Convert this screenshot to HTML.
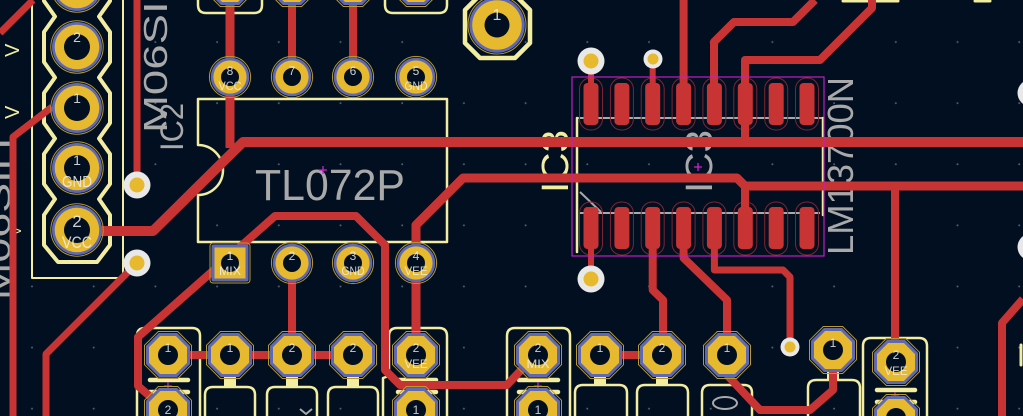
<!DOCTYPE html>
<html><head><meta charset="utf-8"><style>
html,body{margin:0;padding:0;background:#010f20;width:1023px;height:416px;overflow:hidden;}
svg{display:block;position:absolute;left:0;top:0;}
</style></head><body>
<svg width="1023" height="416" viewBox="0 0 1023 416" xmlns="http://www.w3.org/2000/svg">
<defs>
<pattern id="dots" x="2" y="12" width="61.7" height="61.1" patternUnits="userSpaceOnUse"><circle cx="30" cy="30" r="1" fill="#4f5e75"/></pattern>
<g id="hp"><circle r="26.2" fill="none" stroke="#b8992a" stroke-width="1"/><circle r="25" fill="#5e68b3"/><circle r="22.3" fill="#e6b92e"/><circle r="13" fill="#010f20"/></g>
<g id="bp"><circle r="29" fill="none" stroke="#b8992a" stroke-width="1"/><circle r="27.8" fill="#5e68b3"/><circle r="24.8" fill="#e6b92e"/><circle r="12.5" fill="#010f20"/></g>
<g id="sp"><circle r="20.6" fill="none" stroke="#b8992a" stroke-width="1"/><circle r="19.3" fill="#5e68b3"/><circle r="16.6" fill="#e6b92e"/><circle r="9" fill="#010f20"/></g>
<g id="op"><polygon points="-9.7,-23.5 9.7,-23.5 23.5,-9.7 23.5,9.7 9.7,23.5 -9.7,23.5 -23.5,9.7 -23.5,-9.7" fill="none" stroke="#b8992a" stroke-width="1"/><polygon points="-9.1,-22 9.1,-22 22,-9.1 22,9.1 9.1,22 -9.1,22 -22,9.1 -22,-9.1" fill="#5e68b3"/><polygon points="-7.9,-19 7.9,-19 19,-7.9 19,7.9 7.9,19 -7.9,19 -19,7.9 -19,-7.9" fill="#e6b92e"/><circle r="10" fill="#010f20"/></g>
<g id="opb"><polyline points="-23.5,6 -23.5,-9.7 -9.7,-23.5 9.7,-23.5 23.5,-9.7 23.5,6" fill="none" stroke="#b8992a" stroke-width="1"/><polygon points="-9.1,-22 9.1,-22 22,-9.1 22,6 -22,6 -22,-9.1" fill="#5e68b3"/><polygon points="-7.9,-19 7.9,-19 19,-7.9 19,6 -19,6 -19,-7.9" fill="#e6b92e"/><path d="M-8,6 A10,10 0 1 1 8,6 Z" fill="#010f20"/></g>
<g id="opc"><polyline points="-23.5,-2 -23.5,-9.7 -9.7,-23.5 9.7,-23.5 23.5,-9.7 23.5,-2" fill="none" stroke="#b8992a" stroke-width="1"/><polygon points="-9.1,-22 9.1,-22 22,-9.1 22,-2 -22,-2 -22,-9.1" fill="#5e68b3"/><polygon points="-7.9,-19 7.9,-19 19,-7.9 19,-2 -19,-2 -19,-7.9" fill="#e6b92e"/><path d="M-9.8,-2 A10,10 0 0 1 9.8,-2 Z" fill="#010f20"/></g>
<g id="sq"><rect x="-20" y="-20" width="40" height="40" rx="3" fill="none" stroke="#b8992a" stroke-width="1"/><rect x="-18.5" y="-18.5" width="37" height="37" rx="2" fill="#5e68b3"/><rect x="-15.5" y="-15.5" width="31" height="31" fill="#e6b92e"/><circle r="9" fill="#010f20"/></g>
<g id="via"><circle r="13.5" fill="#e8e8e8"/><circle r="7.5" fill="#e6b92e"/></g>
<g id="vias"><circle r="9.5" fill="#e8e8e8"/><circle r="5.5" fill="#e6b92e"/></g>
</defs>

<rect width="1023" height="416" fill="#010f20"/>
<rect width="1023" height="416" fill="url(#dots)"/>

<!-- Fab (gray) graphics/text -->
<g fill="#a9a9a9" font-family="Liberation Sans, sans-serif">
  <text x="255" y="200" font-size="44" textLength="150" lengthAdjust="spacingAndGlyphs">TL072P</text>
  <text transform="translate(853,255) rotate(-90)" font-size="36" textLength="178" lengthAdjust="spacingAndGlyphs">LM13700N</text>
  <text transform="translate(167,133) rotate(-90)" font-size="33" textLength="162" lengthAdjust="spacingAndGlyphs">M06SIP</text>
  <text transform="translate(183,151) rotate(-90)" font-size="32" textLength="48" lengthAdjust="spacingAndGlyphs">IC2</text>
  <text transform="translate(712,193) rotate(-90)" font-size="38" textLength="63" lengthAdjust="spacingAndGlyphs">IC3</text>
  <text transform="translate(10,300) rotate(-90)" font-size="33" textLength="162" lengthAdjust="spacingAndGlyphs">M06SIH</text>
</g>
<g stroke="#a9a9a9" stroke-width="2" fill="none">
  <path d="M577,118 H823"/>
  <path d="M580,213 H820"/>
  <path d="M580,192 L601,212"/>
  <ellipse cx="725" cy="403" rx="12" ry="6"/>
  <path d="M300,409 L306,414 L312,409"/>
</g>

<!-- Silkscreen -->
<g fill="none" stroke="#f2eda1" stroke-linecap="round" stroke-linejoin="round">
  <path d="M32,-2 V278 H123 V-2" stroke-width="2"/>
  <path d="M44,-10 V1 L55,16.5 L44,32 V62 L55,77.5 L44,93 V123 L55,138.5 L44,154 V184 L55,199 L44,215 V245 L58,262 H97 L110,245 V215 L99,199 L110,184 V154 L99,138.5 L110,123 V93 L99,77.5 L110,62 V32 L99,16.5 L110,1 V-10" stroke-width="4"/>
  <path d="M198,99 H447 V242 H198 V195 A25,25 0 0 0 198,145 Z" stroke-width="2.5"/>
  <path d="M198,-5 V5 Q198,13 206,13 H254 Q262,13 262,5 V-5" stroke-width="2.5"/>
  <path d="M385,-5 V5 Q385,13 393,13 H439 Q447,13 447,5 V-5" stroke-width="2.5"/>
  <path d="M480,-5 L465,10 V43 L480,58 H515 L530,43 V10 L515,-5" stroke-width="4.5"/>
  <path d="M577,118 V252" stroke-width="2.5"/>
  <path d="M823,118 V215" stroke-width="2.5"/>
  <path d="M137,416 V336 Q137,328 145,328 H192 Q200,328 200,336 V416" stroke-width="2.5"/>
  <path d="M150,380 H188 M150,392 H188" stroke-width="4.5"/>
  <path d="M383,416 V378 L389,376 V336 Q389,328 397,328 H439 Q447,328 447,336 V416" stroke-width="2.5"/>
  <path d="M398,380 H436 M398,392 H436" stroke-width="4.5"/>
  <path d="M507,416 V336 Q507,328 515,328 H562 Q570,328 570,336 V416" stroke-width="2.5"/>
  <path d="M519,380 H558 M519,392 H558" stroke-width="4.5"/>
  <path d="M863,416 V346 Q863,338 871,338 H919 Q927,338 927,346 V416" stroke-width="2.5"/>
  <path d="M877,390 H915 M877,402 H915" stroke-width="4.5"/>
  <path d="M205,416 V395 Q205,387 213,387 H247 Q255,387 255,395 V416" stroke-width="2.5"/>
  <path d="M267,416 V395 Q267,387 275,387 H309 Q317,387 317,395 V416" stroke-width="2.5"/>
  <path d="M328,416 V395 Q328,387 336,387 H370 Q378,387 378,395 V416" stroke-width="2.5"/>
  <path d="M575,416 V393 Q575,385 583,385 H619 Q627,385 627,393 V416" stroke-width="2.5"/>
  <path d="M637,416 V393 Q637,385 645,385 H680 Q688,385 688,393 V416" stroke-width="2.5"/>
  <path d="M702,416 V393 Q702,385 710,385 H744 Q752,385 752,393 V416" stroke-width="2.5"/>
  <path d="M808,416 V388 Q808,380 816,380 H852 Q860,380 860,388 V416" stroke-width="2.5"/>
  <path d="M1021,345 V365" stroke-width="3"/>
  <path d="M843,1 H898" stroke-width="3"/>
  <path d="M975,1 H990" stroke-width="3"/>
</g>
<g fill="#f2eda1">
  <rect x="224" y="376" width="12" height="11"/>
  <rect x="286" y="376" width="12" height="11"/>
  <rect x="347" y="376" width="12" height="11"/>
  <rect x="594" y="376" width="12" height="10"/>
  <rect x="656" y="376" width="12" height="10"/>
  <rect x="827" y="371" width="12" height="10"/>
</g>
<g fill="#f2eda1" font-family="Liberation Sans, sans-serif">
  <text transform="translate(568,193) rotate(-90)" font-size="38" textLength="63" lengthAdjust="spacingAndGlyphs">IC3</text>
  <text transform="translate(19,57) rotate(-90)" font-size="20">V</text>
  <text transform="translate(19,119) rotate(-90)" font-size="20">V</text>
  <text transform="translate(21,235) rotate(-90)" font-size="12">V</text>
</g>

<!-- SMD pads IC3 -->
<g fill="none" stroke="#7c2530" stroke-width="1">
  <rect x="579.5" y="78" width="23" height="52" rx="11"/><rect x="610.4" y="78" width="23" height="52" rx="11"/><rect x="641.2" y="78" width="23" height="52" rx="11"/><rect x="672.1" y="78" width="23" height="52" rx="11"/><rect x="702.9" y="78" width="23" height="52" rx="11"/><rect x="733.8" y="78" width="23" height="52" rx="11"/><rect x="764.7" y="78" width="23" height="52" rx="11"/><rect x="795.5" y="78" width="23" height="52" rx="11"/>
  <rect x="579.5" y="202" width="23" height="53" rx="11"/><rect x="610.4" y="202" width="23" height="53" rx="11"/><rect x="641.2" y="202" width="23" height="53" rx="11"/><rect x="672.1" y="202" width="23" height="53" rx="11"/><rect x="702.9" y="202" width="23" height="53" rx="11"/><rect x="733.8" y="202" width="23" height="53" rx="11"/><rect x="764.7" y="202" width="23" height="53" rx="11"/><rect x="795.5" y="202" width="23" height="53" rx="11"/>
</g>
<g fill="#c83434">
  <rect x="583.5" y="83" width="15" height="42" rx="4"/><rect x="614.4" y="83" width="15" height="42" rx="4"/><rect x="645.2" y="83" width="15" height="42" rx="4"/><rect x="676.1" y="83" width="15" height="42" rx="4"/><rect x="706.9" y="83" width="15" height="42" rx="4"/><rect x="737.8" y="83" width="15" height="42" rx="4"/><rect x="768.7" y="83" width="15" height="42" rx="4"/><rect x="799.5" y="83" width="15" height="42" rx="4"/>
  <rect x="583.5" y="207" width="15" height="42" rx="4"/><rect x="614.4" y="207" width="15" height="42" rx="4"/><rect x="645.2" y="207" width="15" height="42" rx="4"/><rect x="676.1" y="207" width="15" height="42" rx="4"/><rect x="706.9" y="207" width="15" height="42" rx="4"/><rect x="737.8" y="207" width="15" height="42" rx="4"/><rect x="768.7" y="207" width="15" height="42" rx="4"/><rect x="799.5" y="207" width="15" height="42" rx="4"/>
</g>

<!-- Traces -->
<g fill="none" stroke="#c83434" stroke-linejoin="round" stroke-linecap="butt">
  <path d="M0,33 L33,0" stroke-width="7"/>
  <path d="M52,107 L13,137 V416" stroke-width="7"/>
  <path d="M137,0 V185" stroke-width="7"/>
  <path d="M137,263 L46,354 V416" stroke-width="7"/>
  <path d="M77,231 L153,231 L243,142 L1023,142" stroke-width="10"/>
  <path d="M230,0 V148" stroke-width="9"/>
  <path d="M292,0 V77 M353,0 V77" stroke-width="8"/>
  <path d="M523,368 L507,385 L400,385 L385,370 L385,245 L356,216 L275,216 L138,337 V386 L160,405" stroke-width="8"/>
  <path d="M292,263 V355" stroke-width="8"/>
  <path d="M168,355 H353" stroke-width="8"/>
  <path d="M416,355 V225 L463,178 L737,178 L745,186 L1023,186" stroke-width="9"/>
  <path d="M895,186 V362" stroke-width="8"/>
  <path d="M745,186 V240" stroke-width="8"/>
  <path d="M714,104 V42 L734,22 L793,22 L815,0" stroke-width="8"/>
  <path d="M745,143 V60 L820,60 L872,8 V0" stroke-width="8"/>
  <path d="M683.6,0 V104" stroke-width="8"/>
  <path d="M591,61 V104 M652.7,59 V104" stroke-width="6"/>
  <path d="M591,228 V279" stroke-width="6"/>
  <path d="M652.7,228 V290 L663,300 V355" stroke-width="8"/>
  <path d="M683.6,228 V258 L727,300 V355" stroke-width="8"/>
  <path d="M714.4,228 V270 L783,270 L790,277 V347" stroke-width="7"/>
  <path d="M600,355 H662" stroke-width="8"/>
  <path d="M727,375 L760,410 L810,410 L833,390 V350" stroke-width="8"/>
  <path d="M1023,299 L1002,323 V416" stroke-width="8"/>
  <path d="M497,0 V25" stroke-width="8"/>
</g>

<!-- Courtyard + origin marks -->
<rect x="572" y="77" width="252" height="179" fill="none" stroke="#c21fc2" stroke-width="1.2"/>
<g stroke="#d020d0" stroke-width="1.3" fill="none">
  <path d="M319,170 H327 M323,166 V174"/>
  <path d="M694,167 H702 M698,163 V171"/>
  <path d="M164,386 H172 M168,382 V390"/>
  <path d="M534,386 H542 M538,382 V390"/>
  <path d="M891,396 H899 M895,392 V400"/>
</g>

<!-- Vias -->
<use href="#via" x="137" y="185"/>
<use href="#via" x="137" y="263"/>
<use href="#via" x="591" y="61"/>
<use href="#vias" x="653" y="59"/>
<use href="#via" x="591" y="279"/>
<use href="#vias" x="790" y="347"/>
<use href="#via" x="1031" y="93"/>
<use href="#via" x="1031" y="247"/>

<!-- Through-hole pads -->
<use href="#hp" x="77" y="-14"/>
<use href="#hp" x="77" y="47"/>
<use href="#hp" x="77" y="108"/>
<use href="#hp" x="77" y="168"/>
<use href="#hp" x="77" y="230"/>
<use href="#bp" x="497" y="25"/>
<use href="#op" x="230" y="-17"/>
<use href="#op" x="292" y="-17"/>
<use href="#op" x="353" y="-17"/>
<use href="#op" x="416" y="-17"/>
<use href="#sp" x="230" y="77"/>
<use href="#sp" x="292" y="77"/>
<use href="#sp" x="353" y="77"/>
<use href="#sp" x="416" y="77"/>
<use href="#sq" x="230" y="263"/>
<use href="#sp" x="292" y="263"/>
<use href="#sp" x="353" y="263"/>
<use href="#sp" x="416" y="263"/>
<use href="#op" x="168" y="355"/>
<use href="#op" x="230" y="355"/>
<use href="#op" x="292" y="355"/>
<use href="#op" x="353" y="355"/>
<use href="#op" x="416" y="355"/>
<use href="#op" x="538" y="355"/>
<use href="#op" x="600" y="355"/>
<use href="#op" x="662" y="355"/>
<use href="#op" x="727" y="355"/>
<use href="#op" x="833" y="350"/>
<use href="#op" x="896" y="362"/>
<use href="#opb" x="168" y="410"/>
<use href="#opb" x="416" y="410"/>
<use href="#opb" x="538" y="410"/>
<use href="#opc" x="896" y="418"/>

<!-- Pad labels -->
<g fill="#eeeeee" fill-opacity="0.85" font-family="Liberation Sans, sans-serif" text-anchor="middle">
  <text x="77" y="42" font-size="14">2</text>
  <text x="77" y="103" font-size="14">1</text>
  <text x="77" y="165" font-size="14">1</text>
  <text x="77" y="187" font-size="16" textLength="30" lengthAdjust="spacingAndGlyphs">GND</text>
  <text x="77" y="227" font-size="17">2</text>
  <text x="77" y="248" font-size="17" textLength="30" lengthAdjust="spacingAndGlyphs">VCC</text>
  <text x="497" y="20" font-size="16">1</text>

  <text x="230" y="75" font-size="12">8</text>
  <text x="230" y="90" font-size="12" textLength="23" lengthAdjust="spacingAndGlyphs">VCC</text>
  <text x="292" y="75" font-size="12">7</text>
  <text x="353" y="75" font-size="12">6</text>
  <text x="416" y="75" font-size="12">5</text>
  <text x="416" y="90" font-size="12" textLength="23" lengthAdjust="spacingAndGlyphs">GND</text>

  <text x="230" y="260" font-size="12">1</text>
  <text x="230" y="275" font-size="12" textLength="22" lengthAdjust="spacingAndGlyphs">MIX</text>
  <text x="292" y="260" font-size="12">2</text>
  <text x="353" y="260" font-size="12">3</text>
  <text x="353" y="275" font-size="12" textLength="23" lengthAdjust="spacingAndGlyphs">GND</text>
  <text x="416" y="260" font-size="12">4</text>
  <text x="416" y="275" font-size="12" textLength="23" lengthAdjust="spacingAndGlyphs">VEE</text>

  <text x="168" y="352" font-size="12">1</text>
  <text x="230" y="352" font-size="12">1</text>
  <text x="292" y="352" font-size="12">2</text>
  <text x="353" y="352" font-size="12">2</text>
  <text x="416" y="352" font-size="12">2</text>
  <text x="416" y="368" font-size="12" textLength="23" lengthAdjust="spacingAndGlyphs">VEE</text>
  <text x="538" y="352" font-size="12">2</text>
  <text x="538" y="368" font-size="12" textLength="23" lengthAdjust="spacingAndGlyphs">MIX</text>
  <text x="600" y="352" font-size="12">1</text>
  <text x="662" y="352" font-size="12">2</text>
  <text x="727" y="352" font-size="12">1</text>
  <text x="833" y="347" font-size="12">1</text>
  <text x="896" y="359" font-size="12">2</text>
  <text x="896" y="375" font-size="12" textLength="23" lengthAdjust="spacingAndGlyphs">VEE</text>
  <text x="168" y="414" font-size="12">2</text>
  <text x="416" y="414" font-size="12">1</text>
  <text x="538" y="414" font-size="12">1</text>
</g>
</svg>
</body></html>
